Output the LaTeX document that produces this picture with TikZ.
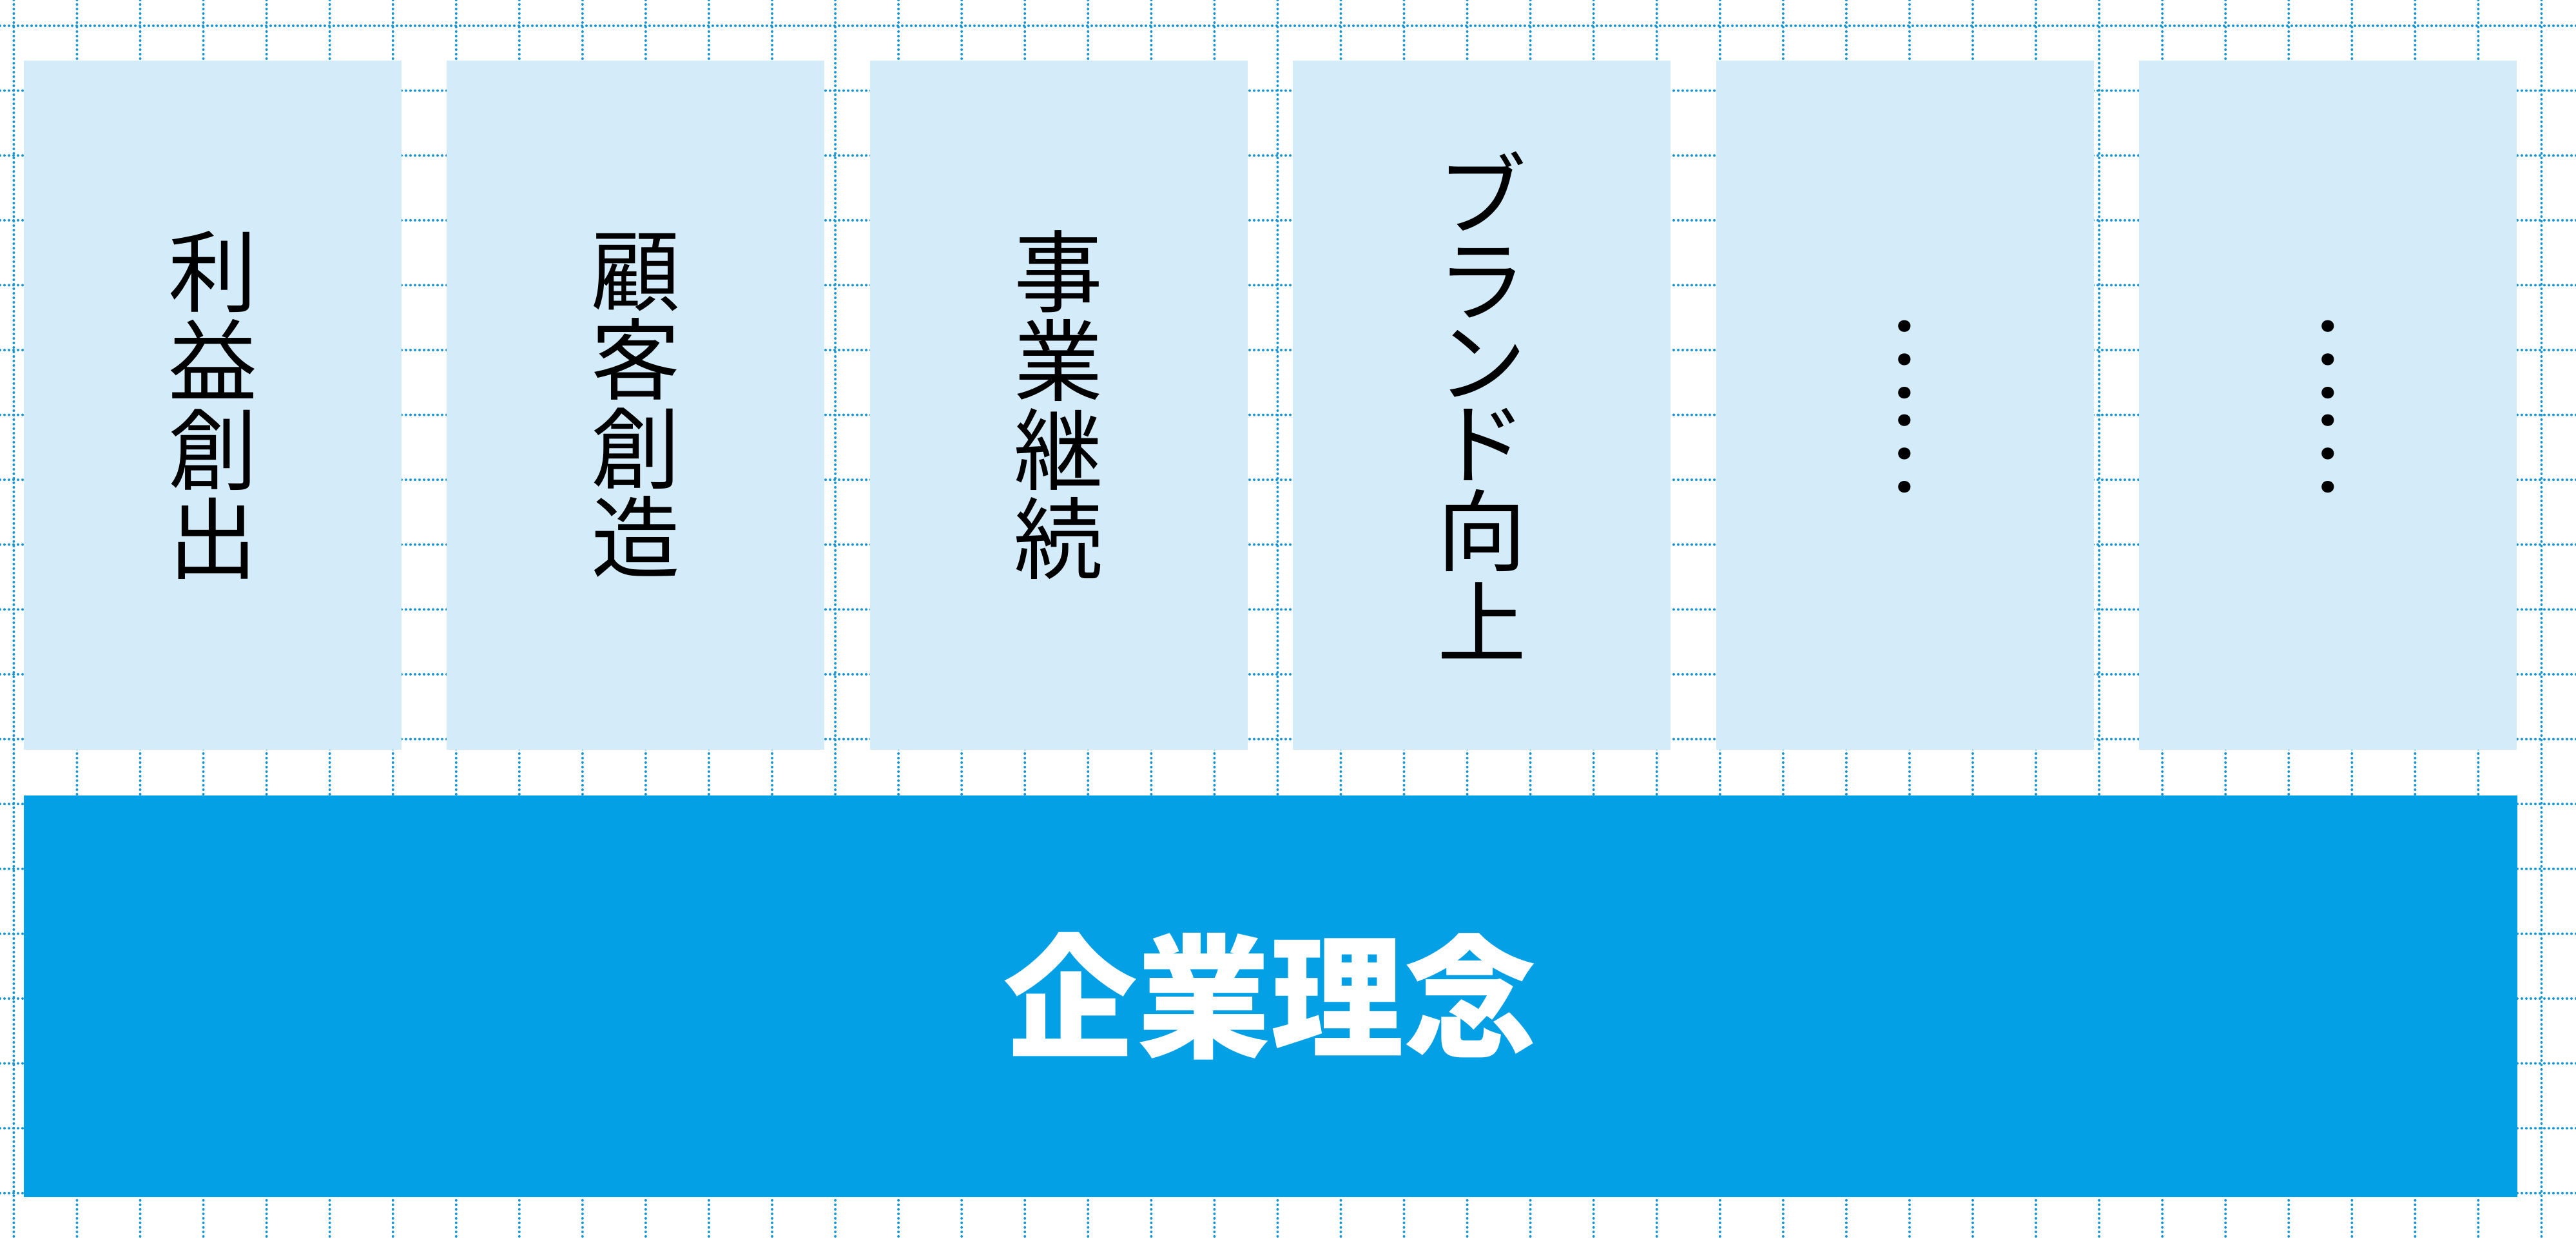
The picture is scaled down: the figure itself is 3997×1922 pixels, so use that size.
\documentclass[tikz,border=0pt]{standalone}
\usepackage{fontspec}
\newfontfamily\jp{Noto Sans CJK JP}
\definecolor{gridc}{RGB}{22,150,212}
\definecolor{pillarc}{RGB}{212,236,249}
\definecolor{basec}{RGB}{4,160,230}
\begin{document}
\begin{tikzpicture}[x=0.1mm,y=-0.1mm,
  gridline/.style={gridc, line width=0.4mm, dash pattern=on 0pt off 0.7mm, line cap=round},
  pillar/.style={fill=pillarc, draw=none, minimum width=58.6mm, minimum height=106.9mm,
    inner sep=0pt, align=center, text=black,
    font=\jp\fontsize{13.8mm}{13.8mm}\selectfont},
  basebox/.style={fill=basec, draw=none, minimum width=386.9mm, minimum height=62.3mm,
    inner sep=0pt, text=white, font=\jp\bfseries\fontsize{20.7mm}{20.7mm}\selectfont}]
  \useasboundingbox (0,0) rectangle (3997,1922);
  \fill[white] (0,0) rectangle (3997,1922);
  % dotted background grid
  \foreach \i in {0,...,40}
    \draw[gridline] (21.4+98.05*\i,0) -- (21.4+98.05*\i,1922);
  \foreach \j in {0,...,18}
    \draw[gridline] (0,40+100.6*\j) -- (3997,40+100.6*\j);
  % pillars
  \node[pillar] (p1) at (330,628.5) {利\\益\\創\\出};
  \node[pillar] (p2) at (986.4,628.5) {顧\\客\\創\\造};
  \node[pillar] (p3) at (1642.8,628.5) {事\\業\\継\\続};
  \node[pillar] (p4) at (2299.2,628.5) {ブ\\[-0.4mm]ラ\\[-1.2mm]ン\\[-1.2mm]ド\\[-0.2mm]向\\[0.4mm]上};
  \node[pillar] (p5) at (2955.6,628.5) {\rotatebox{-90}{……}};
  \node[pillar] (p6) at (3612,628.5) {\rotatebox{-90}{……}};
  % foundation
  \node[basebox] (base) at (1971.5,1545.5) {企業理念};
\end{tikzpicture}
\end{document}
